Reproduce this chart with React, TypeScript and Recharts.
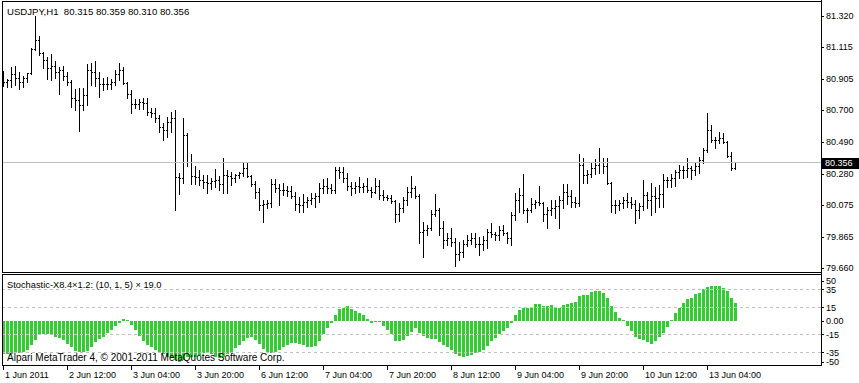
import React from 'react';
import { ComposedChart, BarChart, Bar, XAxis, YAxis, ReferenceLine } from 'recharts';

const symbol = 'USDJPY,H1';
const indicatorName = 'Stochastic-X8.4×1.2: (10, 1, 5) × 19.0';
const copyright = 'Alpari MetaTrader 4, © 2001-2011 MetaQuotes Software Corp.';

const highs = [
  80.955, 80.903, 80.982, 80.989, 80.949, 80.923, 80.942, 81.107, 81.318, 81.187,
  81.081, 81.048, 81.068, 81.021, 80.982, 80.989, 80.949, 80.897, 80.838, 80.844,
  80.844, 81.002, 81.008, 81.021, 80.949, 80.909, 80.916, 80.903, 80.962, 81.008,
  80.982, 80.884, 80.831, 80.772, 80.772, 80.778, 80.778, 80.712, 80.712, 80.666,
  80.613, 80.653, 80.686, 80.699, 80.284, 80.646, 80.548, 80.410, 80.331, 80.304,
  80.271, 80.271, 80.251, 80.311, 80.265, 80.383, 80.304, 80.291, 80.278, 80.291,
  80.357, 80.350, 80.271, 80.232, 80.186, 80.107, 80.107, 80.245, 80.245, 80.213,
  80.219, 80.200, 80.200, 80.160, 80.127, 80.147, 80.127, 80.153, 80.153, 80.219,
  80.245, 80.251, 80.213, 80.324, 80.324, 80.324, 80.284, 80.226, 80.226, 80.258,
  80.219, 80.251, 80.193, 80.251, 80.239, 80.173, 80.140, 80.140, 80.107, 80.087,
  80.127, 80.193, 80.265, 80.200, 80.147, 79.962, 79.942, 80.041, 80.147, 80.054,
  79.968, 79.890, 79.922, 79.857, 79.831, 79.844, 79.877, 79.890, 79.890, 79.864,
  79.871, 79.916, 79.955, 79.897, 79.936, 79.942, 79.897, 80.028, 80.153, 80.186,
  80.278, 80.054, 80.120, 80.107, 80.200, 80.094, 80.061, 80.107, 80.107, 80.134,
  80.213, 80.213, 80.173, 80.127, 80.410, 80.383, 80.304, 80.350, 80.377, 80.449,
  80.383, 80.383, 80.226, 80.107, 80.107, 80.127, 80.153, 80.127, 80.107, 80.087,
  80.239, 80.160, 80.219, 80.193, 80.206, 80.278, 80.258, 80.278, 80.304, 80.337,
  80.331, 80.383, 80.331, 80.350, 80.390, 80.449, 80.679, 80.600, 80.522, 80.555,
  80.548, 80.495, 80.423, 80.359,
];

const lows = [
  80.858, 80.851, 80.851, 80.864, 80.838, 80.851, 80.884, 80.936, 81.094, 81.061,
  80.975, 80.903, 80.897, 80.909, 80.805, 80.897, 80.864, 80.719, 80.699, 80.561,
  80.699, 80.732, 80.864, 80.858, 80.785, 80.831, 80.838, 80.838, 80.864, 80.897,
  80.871, 80.778, 80.679, 80.712, 80.706, 80.706, 80.666, 80.653, 80.620, 80.555,
  80.502, 80.522, 80.555, 80.041, 80.147, 80.219, 80.331, 80.213, 80.213, 80.206,
  80.186, 80.153, 80.180, 80.193, 80.173, 80.153, 80.153, 80.206, 80.226, 80.251,
  80.265, 80.258, 80.200, 80.120, 80.041, 79.962, 80.054, 80.061, 80.160, 80.074,
  80.140, 80.134, 80.120, 80.041, 80.028, 80.028, 80.061, 80.081, 80.061, 80.094,
  80.153, 80.153, 80.153, 80.153, 80.251, 80.226, 80.173, 80.140, 80.153, 80.160,
  80.160, 80.160, 80.127, 80.153, 80.114, 80.107, 80.107, 80.087, 79.962, 79.968,
  80.028, 80.074, 80.127, 80.120, 79.824, 79.732, 79.877, 79.910, 80.002, 79.877,
  79.791, 79.811, 79.805, 79.673, 79.712, 79.732, 79.805, 79.818, 79.798, 79.745,
  79.778, 79.791, 79.864, 79.844, 79.844, 79.877, 79.824, 79.811, 79.975, 80.028,
  80.021, 79.962, 80.028, 80.054, 80.074, 79.968, 79.922, 80.008, 79.988, 79.922,
  80.054, 80.081, 80.061, 80.061, 80.068, 80.219, 80.219, 80.258, 80.278, 80.284,
  80.284, 80.213, 80.028, 80.021, 80.041, 80.054, 80.061, 80.054, 79.955, 79.988,
  80.041, 80.054, 80.008, 80.028, 80.061, 80.061, 80.193, 80.193, 80.200, 80.251,
  80.251, 80.258, 80.245, 80.271, 80.284, 80.350, 80.423, 80.489, 80.449, 80.482,
  80.482, 80.390, 80.304, 80.310,
];

const opens = [
  80.909, 80.884, 80.897, 80.936, 80.909, 80.884, 80.909, 80.942, 81.101, 81.160,
  81.074, 81.028, 80.975, 80.989, 80.949, 80.962, 80.923, 80.884, 80.778, 80.765,
  80.732, 80.798, 80.962, 80.949, 80.909, 80.871, 80.871, 80.871, 80.884, 80.936,
  80.962, 80.877, 80.805, 80.739, 80.739, 80.752, 80.745, 80.686, 80.679, 80.646,
  80.587, 80.568, 80.620, 80.646, 80.258, 80.251, 80.535, 80.357, 80.265, 80.258,
  80.239, 80.226, 80.219, 80.232, 80.239, 80.213, 80.271, 80.265, 80.251, 80.271,
  80.284, 80.317, 80.265, 80.213, 80.160, 80.074, 80.081, 80.087, 80.213, 80.186,
  80.173, 80.173, 80.166, 80.134, 80.081, 80.074, 80.094, 80.107, 80.120, 80.134,
  80.186, 80.200, 80.186, 80.173, 80.304, 80.291, 80.251, 80.200, 80.186, 80.200,
  80.193, 80.200, 80.173, 80.160, 80.200, 80.140, 80.127, 80.120, 80.100, 80.015,
  80.054, 80.107, 80.160, 80.186, 80.134, 79.897, 79.910, 79.922, 80.015, 80.041,
  79.922, 79.844, 79.857, 79.831, 79.752, 79.765, 79.818, 79.844, 79.857, 79.818,
  79.818, 79.844, 79.897, 79.884, 79.877, 79.910, 79.890, 79.857, 80.008, 80.107,
  80.140, 80.041, 80.041, 80.081, 80.094, 80.087, 80.015, 80.041, 80.054, 80.068,
  80.107, 80.160, 80.134, 80.094, 80.087, 80.337, 80.271, 80.278, 80.317, 80.337,
  80.357, 80.331, 80.219, 80.074, 80.074, 80.087, 80.107, 80.094, 80.081, 80.041,
  80.068, 80.140, 80.107, 80.134, 80.120, 80.147, 80.239, 80.239, 80.251, 80.291,
  80.304, 80.304, 80.317, 80.304, 80.331, 80.370, 80.436, 80.568, 80.502, 80.502,
  80.515, 80.489, 80.397, 80.315,
];

const closes = [
  80.884, 80.897, 80.936, 80.909, 80.884, 80.909, 80.942, 81.101, 81.160, 81.074,
  81.028, 80.975, 80.989, 80.949, 80.962, 80.923, 80.884, 80.778, 80.765, 80.732,
  80.798, 80.962, 80.949, 80.909, 80.871, 80.871, 80.871, 80.884, 80.936, 80.962,
  80.877, 80.805, 80.739, 80.739, 80.752, 80.745, 80.686, 80.679, 80.646, 80.587,
  80.568, 80.620, 80.646, 80.258, 80.251, 80.535, 80.357, 80.265, 80.258, 80.239,
  80.226, 80.219, 80.232, 80.239, 80.213, 80.271, 80.265, 80.251, 80.271, 80.284,
  80.317, 80.265, 80.213, 80.160, 80.074, 80.081, 80.087, 80.213, 80.186, 80.173,
  80.173, 80.166, 80.134, 80.081, 80.074, 80.094, 80.107, 80.120, 80.134, 80.186,
  80.200, 80.186, 80.173, 80.304, 80.291, 80.251, 80.200, 80.186, 80.200, 80.193,
  80.200, 80.173, 80.160, 80.200, 80.140, 80.127, 80.120, 80.100, 80.015, 80.054,
  80.107, 80.160, 80.186, 80.134, 79.897, 79.910, 79.922, 80.015, 80.041, 79.922,
  79.844, 79.857, 79.831, 79.752, 79.765, 79.818, 79.844, 79.857, 79.818, 79.818,
  79.844, 79.897, 79.884, 79.877, 79.910, 79.890, 79.857, 80.008, 80.107, 80.140,
  80.041, 80.041, 80.081, 80.094, 80.087, 80.015, 80.041, 80.054, 80.068, 80.107,
  80.160, 80.134, 80.094, 80.087, 80.337, 80.271, 80.278, 80.317, 80.337, 80.357,
  80.331, 80.219, 80.074, 80.074, 80.087, 80.107, 80.094, 80.081, 80.041, 80.068,
  80.140, 80.107, 80.134, 80.120, 80.147, 80.239, 80.239, 80.251, 80.291, 80.304,
  80.304, 80.317, 80.304, 80.331, 80.370, 80.436, 80.568, 80.502, 80.502, 80.515,
  80.489, 80.397, 80.315, 80.356,
];

const stoch = [
  -37.2, -37.2, -37.2, -36.1, -36.1, -34.3, -32.4, -26.9, -21.3, -15.7,
  -14.9, -14.9, -15.7, -17.6, -19.4, -21.3, -26.1, -28.7, -33.5, -35.0,
  -35.0, -33.5, -28.7, -23.9, -20.2, -17.6, -13.9, -10.2, -5.7, -2.8,
  2.0, 0.5, -4.6, -10.2, -16.5, -22.4, -26.9, -28.7, -32.4, -35.0,
  -37.2, -39.8, -41.7, -43.5, -45.4, -43.5, -40.6, -39.8, -39.8, -38.0,
  -36.1, -35.0, -37.2, -39.8, -41.7, -39.8, -37.2, -35.0, -30.6, -26.9,
  -22.4, -19.4, -17.6, -21.3, -26.1, -31.3, -35.0, -36.1, -35.0, -32.4,
  -28.7, -26.9, -25.0, -25.0, -26.1, -26.9, -28.7, -28.7, -27.6, -22.4,
  -14.9, -8.3, -2.8, 6.5, 13.1, 14.6, 16.5, 12.8, 11.3, 8.3,
  6.5, 2.0, -2.8, -1.7, -1.7, -5.4, -10.2, -14.6, -22.0, -22.0,
  -21.3, -16.5, -12.0, -7.6, -13.1, -16.5, -19.4, -20.6, -20.6, -23.9,
  -26.9, -28.7, -32.4, -37.2, -39.1, -40.6, -39.1, -38.0, -36.1, -35.0,
  -32.4, -27.6, -22.4, -18.7, -14.9, -10.9, -8.3, -2.8, 6.5, 12.0,
  13.9, 14.6, 15.7, 18.3, 18.3, 16.5, 16.5, 17.6, 14.6, 13.9,
  17.6, 19.0, 20.2, 20.8, 27.2, 28.4, 29.0, 31.5, 33.3, 33.3,
  30.6, 25.0, 16.5, 10.2, 2.8, 1.0, -5.7, -11.3, -17.6, -20.2,
  -21.3, -23.1, -26.1, -22.4, -17.6, -13.1, -6.5, 1.0, 8.3, 14.6,
  19.4, 23.9, 25.0, 29.4, 31.3, 35.4, 38.0, 39.1, 39.1, 38.7,
  36.1, 33.1, 25.7, 20.2,
];

const priceTicks = [81.32, 81.115, 80.905, 80.7, 80.49, 80.28, 80.075, 79.865, 79.66];
const stochTicks = [50, 35, 15, 0, -15, -35, -50];
const stochLevels = [35, 15, -15, -35];
const timeLabels = [
  '1 Jun 2011', '2 Jun 12:00', '3 Jun 04:00', '3 Jun 20:00', '6 Jun 12:00', '7 Jun 04:00',
  '7 Jun 20:00', '8 Jun 12:00', '9 Jun 04:00', '9 Jun 20:00', '10 Jun 12:00', '13 Jun 04:00',
];
const timeLabelBars = [0, 16, 32, 48, 64, 80, 96, 112, 128, 144, 160, 176];

const FONT = '"Liberation Sans", Arial, sans-serif';
const last = closes.length - 1;
const lastClose = closes[last];

const priceData = highs.map((h, i) => ({
  i,
  range: [lows[i], h],
  high: h,
  low: lows[i],
  open: opens[i],
  close: closes[i],
}));
const stochData = stoch.map((v, i) => ({ i, v }));

const X_DOMAIN: [number, number] = [-0.375, 204.375];

function OhlcShape(props: any) {
  const { x, y, width, height, payload } = props;
  if (x == null || y == null || !payload) return null;
  const top = Math.min(y, y + height);
  const bottom = Math.max(y, y + height);
  const span = payload.high - payload.low;
  const pos = (v: number) => (span > 0 ? top + ((payload.high - v) / span) * (bottom - top) : top);
  const cx = Math.round(x + width / 2 - 0.5);
  const t = Math.round(top);
  const b = Math.round(bottom);
  const yo = Math.round(pos(payload.open));
  const yc = Math.round(pos(payload.close));
  return (
    <g>
      <rect x={cx} y={t} width={1} height={Math.max(1, b - t + 1)} fill="#000" />
      <rect x={cx - 1} y={yo} width={1} height={1} fill="#000" />
      <rect x={cx + 1} y={yc} width={1} height={1} fill="#000" />
    </g>
  );
}

function PriceTick(props: any) {
  const { x, y, payload } = props;
  return (
    <g>
      <rect x={x - 4} y={Math.round(y)} width={2} height={1} fill="#000" />
      <text x={x} y={y} dy="0.36em" fontSize={9} fontFamily={FONT} fill="#000">
        {Number(payload.value).toFixed(3)}
      </text>
    </g>
  );
}

function StochTick(props: any) {
  const { x, y, payload } = props;
  const yy = Math.min(Math.max(y, 7.5), 88.5);
  const v = payload.value;
  const label = v === 0 ? '0.00' : String(v);
  return (
    <g>
      <rect x={x - 4} y={Math.round(yy)} width={2} height={1} fill="#000" />
      <text x={x} y={yy} dy="0.36em" fontSize={9} fontFamily={FONT} fill="#000">
        {label}
      </text>
    </g>
  );
}

function TimeTick(props: any) {
  const { x, payload } = props;
  const idx = timeLabelBars.indexOf(payload.value);
  const px = Math.round(x - 0.5);
  return (
    <g>
      <rect x={px} y={93} width={1} height={4} fill="#000" />
      <text x={px + 2} y={105} fontSize={9} fontFamily={FONT} fill="#000">
        {timeLabels[idx]}
      </text>
    </g>
  );
}

function PriceTag(props: any) {
  const vb = props.viewBox || {};
  const x = (vb.x || 0) + (vb.width || 0);
  const y = Math.round(vb.y || 0);
  return (
    <g>
      <rect x={x + 1} y={y - 4} width={37} height={11} fill="#000" />
      <text x={x + 4} y={y + 1} dy="0.36em" fontSize={9} fontFamily={FONT} fill="#fff">
        {lastClose.toFixed(3)}
      </text>
    </g>
  );
}

export default function App() {
  const nb = '\u00A0';
  const title = `${symbol}${nb}${nb}${opens[last].toFixed(3)} ${highs[last].toFixed(3)} ${lows[last].toFixed(3)} ${closes[last].toFixed(3)}`;
  return (
    <div style={{ position: 'absolute', left: 0, top: 0, width: 859, height: 383, background: '#fff', overflow: 'hidden' }}>
      <style>{'svg rect, svg line, svg path { shape-rendering: crispEdges; }'}</style>
      <div style={{ position: 'absolute', left: 0, top: 0 }}>
        <ComposedChart width={859} height={273} data={priceData} margin={{ top: 1, right: 0, bottom: 1, left: 2 }}>
          <XAxis dataKey="i" type="number" domain={X_DOMAIN} allowDataOverflow hide />
          <YAxis
            orientation="right"
            type="number"
            domain={[79.633, 81.416]}
            allowDataOverflow
            ticks={priceTicks}
            interval={0}
            width={38}
            tickSize={3}
            tickMargin={2}
            axisLine={false}
            tickLine={false}
            tick={<PriceTick />}
          />
          <ReferenceLine y={lastClose} stroke="#c0c0c0" strokeWidth={1} label={<PriceTag />} />
          <Bar dataKey="range" barSize={3} shape={<OhlcShape />} isAnimationActive={false} />
        </ComposedChart>
      </div>
      <div style={{ position: 'absolute', left: 0, top: 273 }}>
        <BarChart width={859} height={110} data={stochData} margin={{ top: 1, right: 0, bottom: 0, left: 2 }}>
          <XAxis
            dataKey="i"
            type="number"
            domain={X_DOMAIN}
            allowDataOverflow
            ticks={timeLabelBars}
            interval={0}
            height={18}
            axisLine={false}
            tickLine={false}
            tick={<TimeTick />}
          />
          <YAxis
            orientation="right"
            type="number"
            domain={[-49.1, 52]}
            allowDataOverflow
            ticks={stochTicks}
            interval={0}
            width={38}
            tickSize={3}
            tickMargin={2}
            axisLine={false}
            tickLine={false}
            tick={<StochTick />}
          />
          <Bar dataKey="v" fill="#32cd32" barSize={3} isAnimationActive={false} />
          {stochLevels.map((l) => (
            <ReferenceLine key={l} y={l} stroke="#c0c0c0" strokeDasharray="3 3" />
          ))}
        </BarChart>
      </div>
      <svg width={859} height={383} style={{ position: 'absolute', left: 0, top: 0, pointerEvents: 'none' }}>
        <g stroke="#000" strokeWidth={1} fill="none">
          <line x1={2.5} y1={1} x2={2.5} y2={273} />
          <line x1={2} y1={1.5} x2={822} y2={1.5} />
          <line x1={2} y1={272.5} x2={822} y2={272.5} />
          <line x1={2.5} y1={274} x2={2.5} y2={366} />
          <line x1={2} y1={274.5} x2={822} y2={274.5} />
          <line x1={2} y1={365.5} x2={822} y2={365.5} />
          <line x1={821.5} y1={0} x2={821.5} y2={366} />
        </g>
        <text x={7} y={15} fontSize={9.6} fontFamily={FONT} fill="#000">{title}</text>
        <text x={7} y={288} fontSize={9.3} fontFamily={FONT} fill="#000">{indicatorName}</text>
        <text x={7} y={360.5} fontSize={10} fontFamily={FONT} fill="#000">{copyright}</text>
      </svg>
    </div>
  );
}
